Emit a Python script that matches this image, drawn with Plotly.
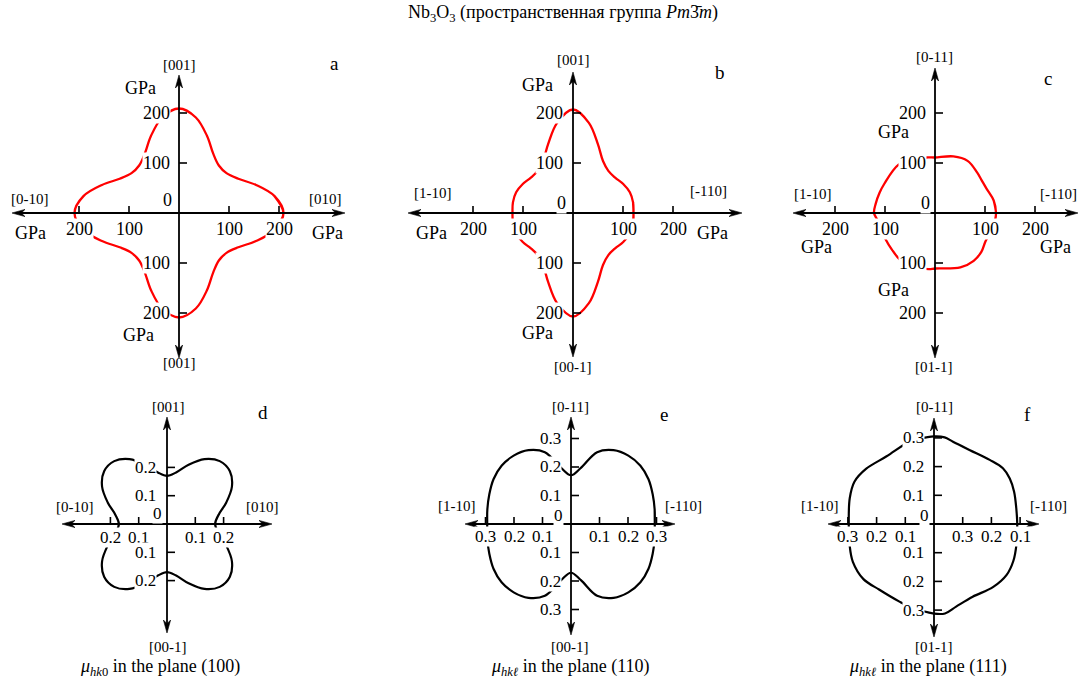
import numpy as np
import plotly.graph_objects as go

W, H = 1082, 682
FONT = "Liberation Serif"

# ---------------- data ----------------
# polar angle (deg, counter-clockwise from the right-hand axis) and radius
ANG10 = [0, 10, 20, 30, 40, 50, 60, 70, 80, 90, 100, 110, 120, 130, 140, 150, 160, 170,
         180, 190, 200, 210, 220, 230, 240, 250, 260, 270, 280, 290, 300, 310, 320, 330, 340, 350]

# shear modulus G, GPa
Ga_theta = ANG10
Ga_r = [209, 194, 164, 137, 124, 124, 137, 164, 194, 209, 194, 164, 137, 124, 124, 137, 164, 194,
        209, 194, 164, 137, 124, 124, 137, 164, 194, 209, 194, 164, 137, 124, 124, 137, 164, 194]

Gb_theta = ANG10
Gb_r = [121, 122, 121, 116, 110, 110, 120, 146, 183, 207, 183, 146, 120, 110, 110, 116, 121, 122,
        121, 122, 121, 116, 110, 110, 120, 146, 183, 207, 183, 146, 120, 110, 110, 116, 121, 122]

Gc_theta = [0, 12, 25, 35, 44, 58, 72, 90, 97, 110, 127, 150, 160, 171, 180, 187, 208, 220,
            234, 250, 264, 270, 295, 309, 320, 330, 340, 353]
Gc_r = [122, 120, 114, 114, 117, 123, 119, 111, 112, 116, 121, 117, 118, 120, 122, 116, 112, 113,
        117, 116, 113, 111, 120, 123, 121, 116, 117, 121]

# Poisson ratio mu
Md_theta = ANG10
Md_r = [0.170, 0.185, 0.223, 0.265, 0.290, 0.290, 0.265, 0.223, 0.185,
        0.170, 0.185, 0.223, 0.265, 0.290, 0.290, 0.265, 0.223, 0.185,
        0.170, 0.185, 0.223, 0.265, 0.290, 0.290, 0.265, 0.223, 0.185,
        0.170, 0.185, 0.223, 0.265, 0.290, 0.290, 0.265, 0.223, 0.185]

Me_theta = ANG10
Me_r = [0.294, 0.298, 0.305, 0.314, 0.318, 0.313, 0.299, 0.268, 0.200,
        0.171, 0.200, 0.268, 0.299, 0.313, 0.318, 0.314, 0.305, 0.298,
        0.294, 0.298, 0.305, 0.314, 0.318, 0.313, 0.299, 0.268, 0.200,
        0.171, 0.200, 0.268, 0.299, 0.313, 0.318, 0.314, 0.305, 0.298]

Mf_theta = [0, 11, 22, 31, 39, 49, 64, 77, 83, 90, 100, 107, 125, 141, 152, 163, 180, 194, 205,
            218, 230, 246, 254, 270, 277, 285, 298, 313, 325, 335, 346]
Mf_r = [0.290, 0.292, 0.301, 0.308, 0.309, 0.296, 0.286, 0.294, 0.304, 0.305, 0.301, 0.299, 0.288,
        0.305, 0.314, 0.307, 0.297, 0.303, 0.312, 0.312, 0.298, 0.296, 0.300, 0.312, 0.314, 0.298,
        0.287, 0.301, 0.309, 0.305, 0.296]

# tick values and labels
G_ticks = [-200, -100, 100, 200]
G_tick_text = ["200", "100", "100", "200"]
Md_ticks = [-0.2, -0.1, 0.1, 0.2]
Md_tick_text = ["0.2", "0.1", "0.1", "0.2"]
M_ticks = [-0.3, -0.2, -0.1, 0.1, 0.2, 0.3]
M_tick_text = ["0.3", "0.2", "0.1", "0.1", "0.2", "0.3"]
Mf_htick_text = ["0.3", "0.2", "0.1", "0.3", "0.2", "0.1"]   # as printed in panel f

SUPTITLE = "Nb<sub>3</sub>O<sub>3</sub> (пространственная группа <i>Pm</i>3\u0304<i>m</i>)"

# ---------------- panel geometry ----------------
panels = [
    dict(letter="a", ox=179, oy=213, s=0.5, box=(0, 360, 55, 380), hx=(12, 345), vy=(75, 358),
         theta=Ga_theta, r=Ga_r, color="#ff0000", width=2.3,
         hticks=G_ticks, htext=G_tick_text, vticks=G_ticks, vtext=G_tick_text, tsize=18,
         title="<i>G</i><sub><i>hk</i>0</sub> in the plane (100)", title_d=(-5, -168),
         top=("[001]", 0, -148), bottom=("[001]", 0, 150), left=("[0-10]", -149, -14),
         right=("[010]", 146, -14), letter_d=(155, -150),
         units=[(-39, -125), (-41, 122), (-149, 20), (148, 20)], zero_d=(-6, -13), vdx=-8, hdy=16),
    dict(letter="b", ox=573, oy=213, s=0.5, box=(360, 760, 55, 380), hx=(408, 742), vy=(72, 357),
         theta=Gb_theta, r=Gb_r, color="#ff0000", width=2.3,
         hticks=G_ticks, htext=G_tick_text, vticks=G_ticks, vtext=G_tick_text, tsize=18,
         title="<i>G</i><sub><i>hk\u2113</i></sub> in the plane (110)", title_d=(-5, -175),
         top=("[001]", 0, -153), bottom=("[00-1]", 0, 154), left=("[1-10]", -140, -20),
         right=("[-110]", 135, -22), letter_d=(147, -141),
         units=[(-36, -128), (-36, 120), (-142, 20), (139, 20)], zero_d=(-6, -10), vdx=-9, hdy=16),
    dict(letter="c", ox=935, oy=213, s=0.5, box=(760, 1082, 55, 380), hx=(793, 1078), vy=(68, 358),
         theta=Gc_theta, r=Gc_r, color="#ff0000", width=2.3,
         hticks=G_ticks, htext=G_tick_text, vticks=G_ticks, vtext=G_tick_text, tsize=18,
         title="<i>G</i><sub><i>hk\u2113</i></sub> in the plane (111)", title_d=(-4, -175),
         top=("[0-11]", -1, -156), bottom=("[01-1]", -1, 154), left=("[1-10]", -122, -19),
         right=("[-110]", 123, -19), letter_d=(113, -135),
         units=[(-42, -81), (-42, 77), (-119, 34), (120, 34)], zero_d=(-4, -10), vdx=-8, hdy=16),
    dict(letter="d", ox=167, oy=524, s=283, box=(0, 360, 380, 682), hx=(62, 272), vy=(417, 633),
         theta=Md_theta, r=Md_r, color="black", width=2.2,
         hticks=Md_ticks, htext=Md_tick_text, vticks=Md_ticks, vtext=Md_tick_text, tsize=17,
         title="<i>\u03bc</i><sub><i>hk</i>0</sub> in the plane (100)", title_d=(-7, 143),
         top=("[001]", 1, -117), bottom=("[00-1]", 1, 123), left=("[0-10]", -92, -17),
         right=("[010]", 95, -17), letter_d=(96, -111),
         units=[], zero_d=(-4, -11), vdx=-10, hdy=13),
    dict(letter="e", ox=571, oy=524, s=285, box=(360, 760, 380, 682), hx=(465, 675), vy=(417, 635),
         theta=Me_theta, r=Me_r, color="black", width=2.2,
         hticks=M_ticks, htext=M_tick_text, vticks=M_ticks, vtext=M_tick_text, tsize=17,
         title="<i>\u03bc</i><sub><i>hk\u2113</i></sub> in the plane (110)", title_d=(-1, 143),
         top=("[0-11]", -1, -117), bottom=("[00-1]", -1, 123), left=("[1-10]", -114, -18),
         right=("[-110]", 112, -18), letter_d=(93, -109),
         units=[], zero_d=(-7, -9), vdx=-9, hdy=12),
    dict(letter="f", ox=934, oy=524, s=287, box=(760, 1082, 380, 682), hx=(828, 1039), vy=(418, 637),
         theta=Mf_theta, r=Mf_r, color="black", width=2.2,
         hticks=M_ticks, htext=Mf_htick_text, vticks=M_ticks, vtext=M_tick_text, tsize=17,
         title="<i>\u03bc</i><sub><i>hk\u2113</i></sub> in the plane (111)", title_d=(-6, 143),
         top=("[0-11]", 0, -117), bottom=("[01-1]", 0, 123), left=("[1-10]", -114, -18),
         right=("[-110]", 114, -18), letter_d=(93, -109),
         units=[], zero_d=(-4, -9), vdx=-9, hdy=12),
]

fig = go.Figure()
layout = dict(width=W, height=H, margin=dict(l=0, r=0, t=0, b=0),
              paper_bgcolor="white", plot_bgcolor="rgba(0,0,0,0)", showlegend=False,
              font=dict(family=FONT, color="black"))

shapes = []
annotations = []

AX_W = 1.8
ARROW_L = 13.0
ARROW_HW = 3.6

for i, p in enumerate(panels, start=1):
    sfx = "" if i == 1 else str(i)
    xr, yr = "x" + sfx, "y" + sfx
    s, ox, oy = p["s"], p["ox"], p["oy"]
    x0, x1, y0, y1 = p["box"]
    layout["xaxis" + sfx] = dict(domain=[x0 / W, x1 / W], range=[(x0 - ox) / s, (x1 - ox) / s],
                                 visible=False, fixedrange=True, anchor=yr)
    layout["yaxis" + sfx] = dict(domain=[1 - y1 / H, 1 - y0 / H], range=[(oy - y1) / s, (oy - y0) / s],
                                 visible=False, fixedrange=True, anchor=xr)

    # ---- curve ----
    t = np.radians(np.array(p["theta"], dtype=float))
    r = np.array(p["r"], dtype=float)
    xs = list(r * np.cos(t))
    ys = list(r * np.sin(t))
    xs = [xs[-1]] + xs + [xs[0], xs[1]]
    ys = [ys[-1]] + ys + [ys[0], ys[1]]
    fig.add_trace(go.Scatter(x=xs, y=ys, mode="lines", xaxis=xr, yaxis=yr,
                             line=dict(color=p["color"], width=p["width"], shape="spline", smoothing=1.0),
                             hoverinfo="skip"))

    # ---- axes with arrows ----
    L, HW = ARROW_L / s, ARROW_HW / s
    xl, xh = (p["hx"][0] - ox) / s, (p["hx"][1] - ox) / s
    yt, yb = (oy - p["vy"][0]) / s, (oy - p["vy"][1]) / s
    line = dict(color="black", width=AX_W)
    shapes.append(dict(type="line", xref=xr, yref=yr, x0=xl + 0.6 * L, y0=0, x1=xh - 0.6 * L, y1=0, line=line))
    shapes.append(dict(type="line", xref=xr, yref=yr, x0=0, y0=yb + 0.6 * L, x1=0, y1=yt - 0.6 * L, line=line))

    def head(tx, ty, dx, dy):
        # tip at (tx,ty), direction (dx,dy) unit
        px, py = -dy, dx
        bx, by = tx - dx * L, ty - dy * L
        nx, ny = tx - dx * 0.72 * L, ty - dy * 0.72 * L
        return (f"M {tx},{ty} L {bx + px * HW},{by + py * HW} L {nx},{ny} "
                f"L {bx - px * HW},{by - py * HW} Z")

    for (tx, ty, dx, dy) in [(xh, 0, 1, 0), (xl, 0, -1, 0), (0, yt, 0, 1), (0, yb, 0, -1)]:
        shapes.append(dict(type="path", xref=xr, yref=yr, path=head(tx, ty, dx, dy),
                           fillcolor="black", line=dict(color="black", width=0.6)))

    # ---- ticks ----
    for v in p["hticks"]:
        shapes.append(dict(type="line", xref=xr, yref=yr, x0=v, y0=0, x1=v, y1=7 / s,
                           line=dict(color="black", width=1.6)))
    for v in p["vticks"]:
        shapes.append(dict(type="line", xref=xr, yref=yr, x0=0, y0=v, x1=8 / s, y1=v,
                           line=dict(color="black", width=1.6)))

    def txt(text, dx, dy, size, xanchor="center", bg=None):
        annotations.append(dict(x=dx / s, y=-dy / s, xref=xr, yref=yr, text=text, showarrow=False,
                                xanchor=xanchor, yanchor="middle", borderpad=0,
                                bgcolor=bg if bg else "rgba(0,0,0,0)",
                                font=dict(family=FONT, size=size, color="black")))

    ts = p["tsize"]
    for v, lab in zip(p["hticks"], p["htext"]):
        annotations.append(dict(x=v, y=0, xref=xr, yref=yr, yshift=-p["hdy"], text=lab, showarrow=False,
                                xanchor="center", yanchor="middle", borderpad=0, bgcolor="white",
                                font=dict(family=FONT, size=ts, color="black")))
    for v, lab in zip(p["vticks"], p["vtext"]):
        annotations.append(dict(x=0, y=v, xref=xr, yref=yr, xshift=p["vdx"], text=lab, showarrow=False,
                                xanchor="right", yanchor="middle", borderpad=0, bgcolor="white",
                                font=dict(family=FONT, size=ts, color="black")))
    txt("0", p["zero_d"][0], p["zero_d"][1], ts, xanchor="right", bg="white")

    txt(p["title"], p["title_d"][0], p["title_d"][1], 18)
    for key in ("top", "bottom", "left", "right"):
        lab, dx, dy = p[key]
        txt(lab, dx, dy, 15)
    txt(p["letter"], p["letter_d"][0], p["letter_d"][1], 19)
    for (dx, dy) in p["units"]:
        txt("GPa", dx, dy, 18, bg="white")

annotations.append(dict(x=563 / W, y=1 - 14 / H, xref="paper", yref="paper", text=SUPTITLE,
                        showarrow=False, xanchor="center", yanchor="middle",
                        font=dict(family=FONT, size=18, color="black")))

layout["shapes"] = shapes
layout["annotations"] = annotations
fig.update_layout(**layout)
fig.write_html("out.html")
